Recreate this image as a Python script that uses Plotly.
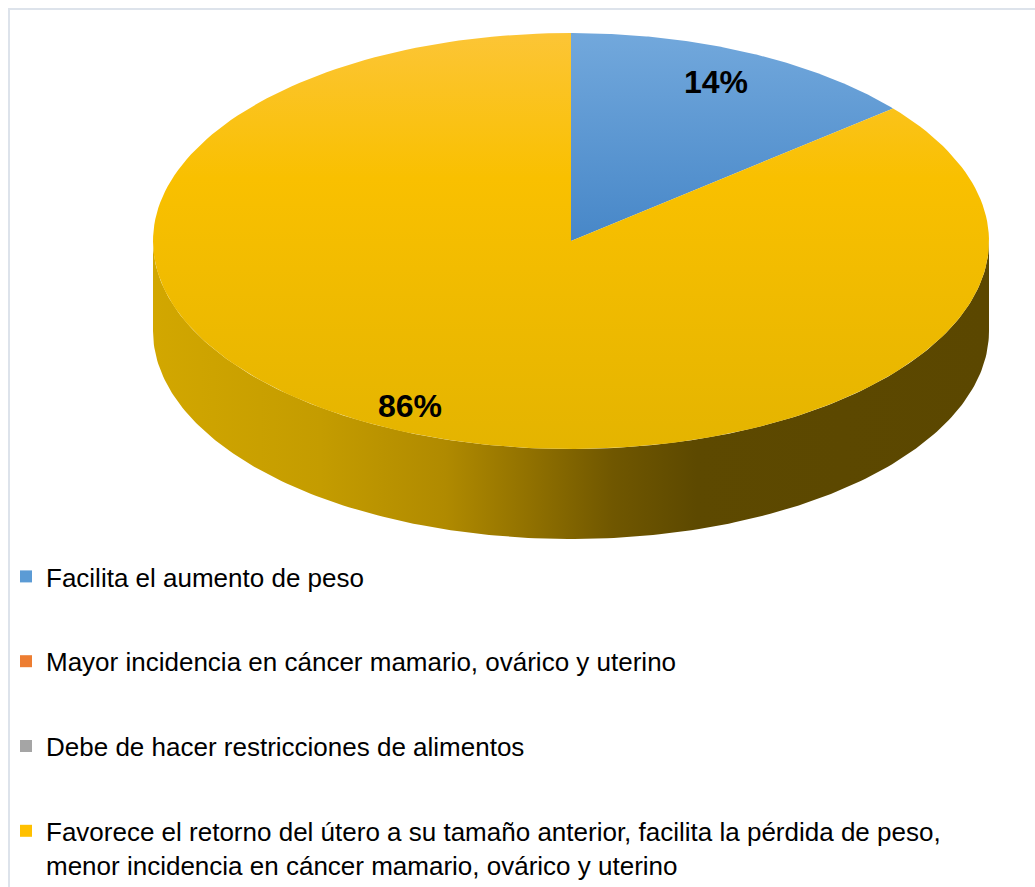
import numpy as np
import plotly.graph_objects as go

# Survey answers and their shares
categories = [
    "Facilita el aumento de peso",
    "Mayor incidencia en cáncer mamario, ovárico y uterino",
    "Debe de hacer restricciones de alimentos",
    "Favorece el retorno del útero a su tamaño anterior, facilita la pérdida de peso,<br>menor incidencia en cáncer mamario, ovárico y uterino",
]
values = [14, 0, 0, 86]

# Slice styling (vertical scales run from the lower edge upward)
base_colors = ["#5B9BD5", "#ED7D31", "#A5A5A5", "#FFC000"]
top_scales = [
    [[0, "#4787C8"], [1, "#72A8DC"]],
    [[0, "#D96A20"], [1, "#F4945A"]],
    [[0, "#959595"], [1, "#B8B8B8"]],
    [[0, "#E4B400"], [0.65, "#F9C000"], [1, "#FCC536"]],
]
wall_scales = [
    [[0, "#4F87BD"], [1, "#2A4C6E"]],
    [[0, "#D06A28"], [1, "#7A3E16"]],
    [[0, "#959595"], [1, "#555555"]],
    [[0, "#D2A700"], [0.2, "#C49C00"], [0.35, "#B08A00"], [0.45, "#917100"],
     [0.55, "#705700"], [0.65, "#5D4900"], [1, "#5B4700"]],
]

# Pie geometry (pixel-like axis units)
W, H = 1035, 887
CX, CY = 571, 241
RX, RY = 418, 208
DEPTH = 90
FONT = "Liberation Sans, Arial, sans-serif"


def arc(a0, a1, dy=0.0, n=200):
    t = np.radians(np.linspace(a0, a1, n))
    return CX + RX * np.sin(t), CY - RY * np.cos(t) + dy


total = float(sum(values))
fig = go.Figure()

starts = np.concatenate([[0.0], np.cumsum(values)[:-1]]) / total * 360.0
ends = np.cumsum(values) / total * 360.0

# Side walls (front half of the disc only)
for v, a0, a1, ws in zip(values, starts, ends, wall_scales):
    if v <= 0:
        continue
    lo, hi = max(a0, 90.0), min(a1, 270.0)
    if hi <= lo:
        continue
    xt, yt = arc(lo, hi)
    xb, yb = arc(hi, lo, DEPTH)
    fig.add_trace(go.Scatter(
        x=np.concatenate([xt, xb, xt[:1]]), y=np.concatenate([yt, yb, yt[:1]]),
        mode="lines", line=dict(width=0), fill="toself",
        fillgradient=dict(type="horizontal", colorscale=ws),
        hoverinfo="skip", showlegend=False,
    ))

# Top faces
for v, a0, a1, ts in zip(values, starts, ends, top_scales):
    if v <= 0:
        continue
    xa, ya = arc(a0, a1)
    fig.add_trace(go.Scatter(
        x=np.concatenate([[CX], xa, [CX]]), y=np.concatenate([[CY], ya, [CY]]),
        mode="lines", line=dict(width=0), fill="toself",
        fillgradient=dict(type="vertical", colorscale=ts),
        hoverinfo="skip", showlegend=False,
    ))

# Percentage labels at the middle of each slice
for v, a0, a1 in zip(values, starts, ends):
    if v <= 0:
        continue
    mid = np.radians((a0 + a1) / 2)
    r = 0.86
    fig.add_annotation(
        x=CX + r * RX * np.sin(mid), y=CY - r * RY * np.cos(mid) + 3,
        xshift=-8,
        text=f"<b>{v / total:.0%}</b>", showarrow=False,
        font=dict(family=FONT, size=32, color="#000000"),
    )

# Legend entries
for i, (name, col) in enumerate(zip(categories, base_colors)):
    fig.add_trace(go.Scatter(
        x=[None], y=[None], mode="markers", name=name,
        marker=dict(symbol="square", size=12, color=col),
        legendgroup=f"g{i}", showlegend=True,
    ))

# Chart frame
fig.add_shape(type="rect", x0=9, y0=9, x1=W + 20, y1=H + 20,
              line=dict(color="#DDE3EB", width=2), fillcolor="rgba(0,0,0,0)",
              layer="below")

fig.update_layout(
    width=W, height=H,
    margin=dict(l=0, r=0, t=0, b=0, autoexpand=False),
    paper_bgcolor="white", plot_bgcolor="white",
    xaxis=dict(range=[0, W], visible=False, fixedrange=True),
    yaxis=dict(range=[H, 0], visible=False, fixedrange=True),
    showlegend=True,
    legend=dict(
        x=6 / W, y=1 - 553 / H, xanchor="left", yanchor="top",
        font=dict(family=FONT, size=26, color="#000000"),
        tracegroupgap=48, valign="top", bgcolor="rgba(0,0,0,0)",
        traceorder="grouped",
    ),
)

fig.write_html("out.html")
